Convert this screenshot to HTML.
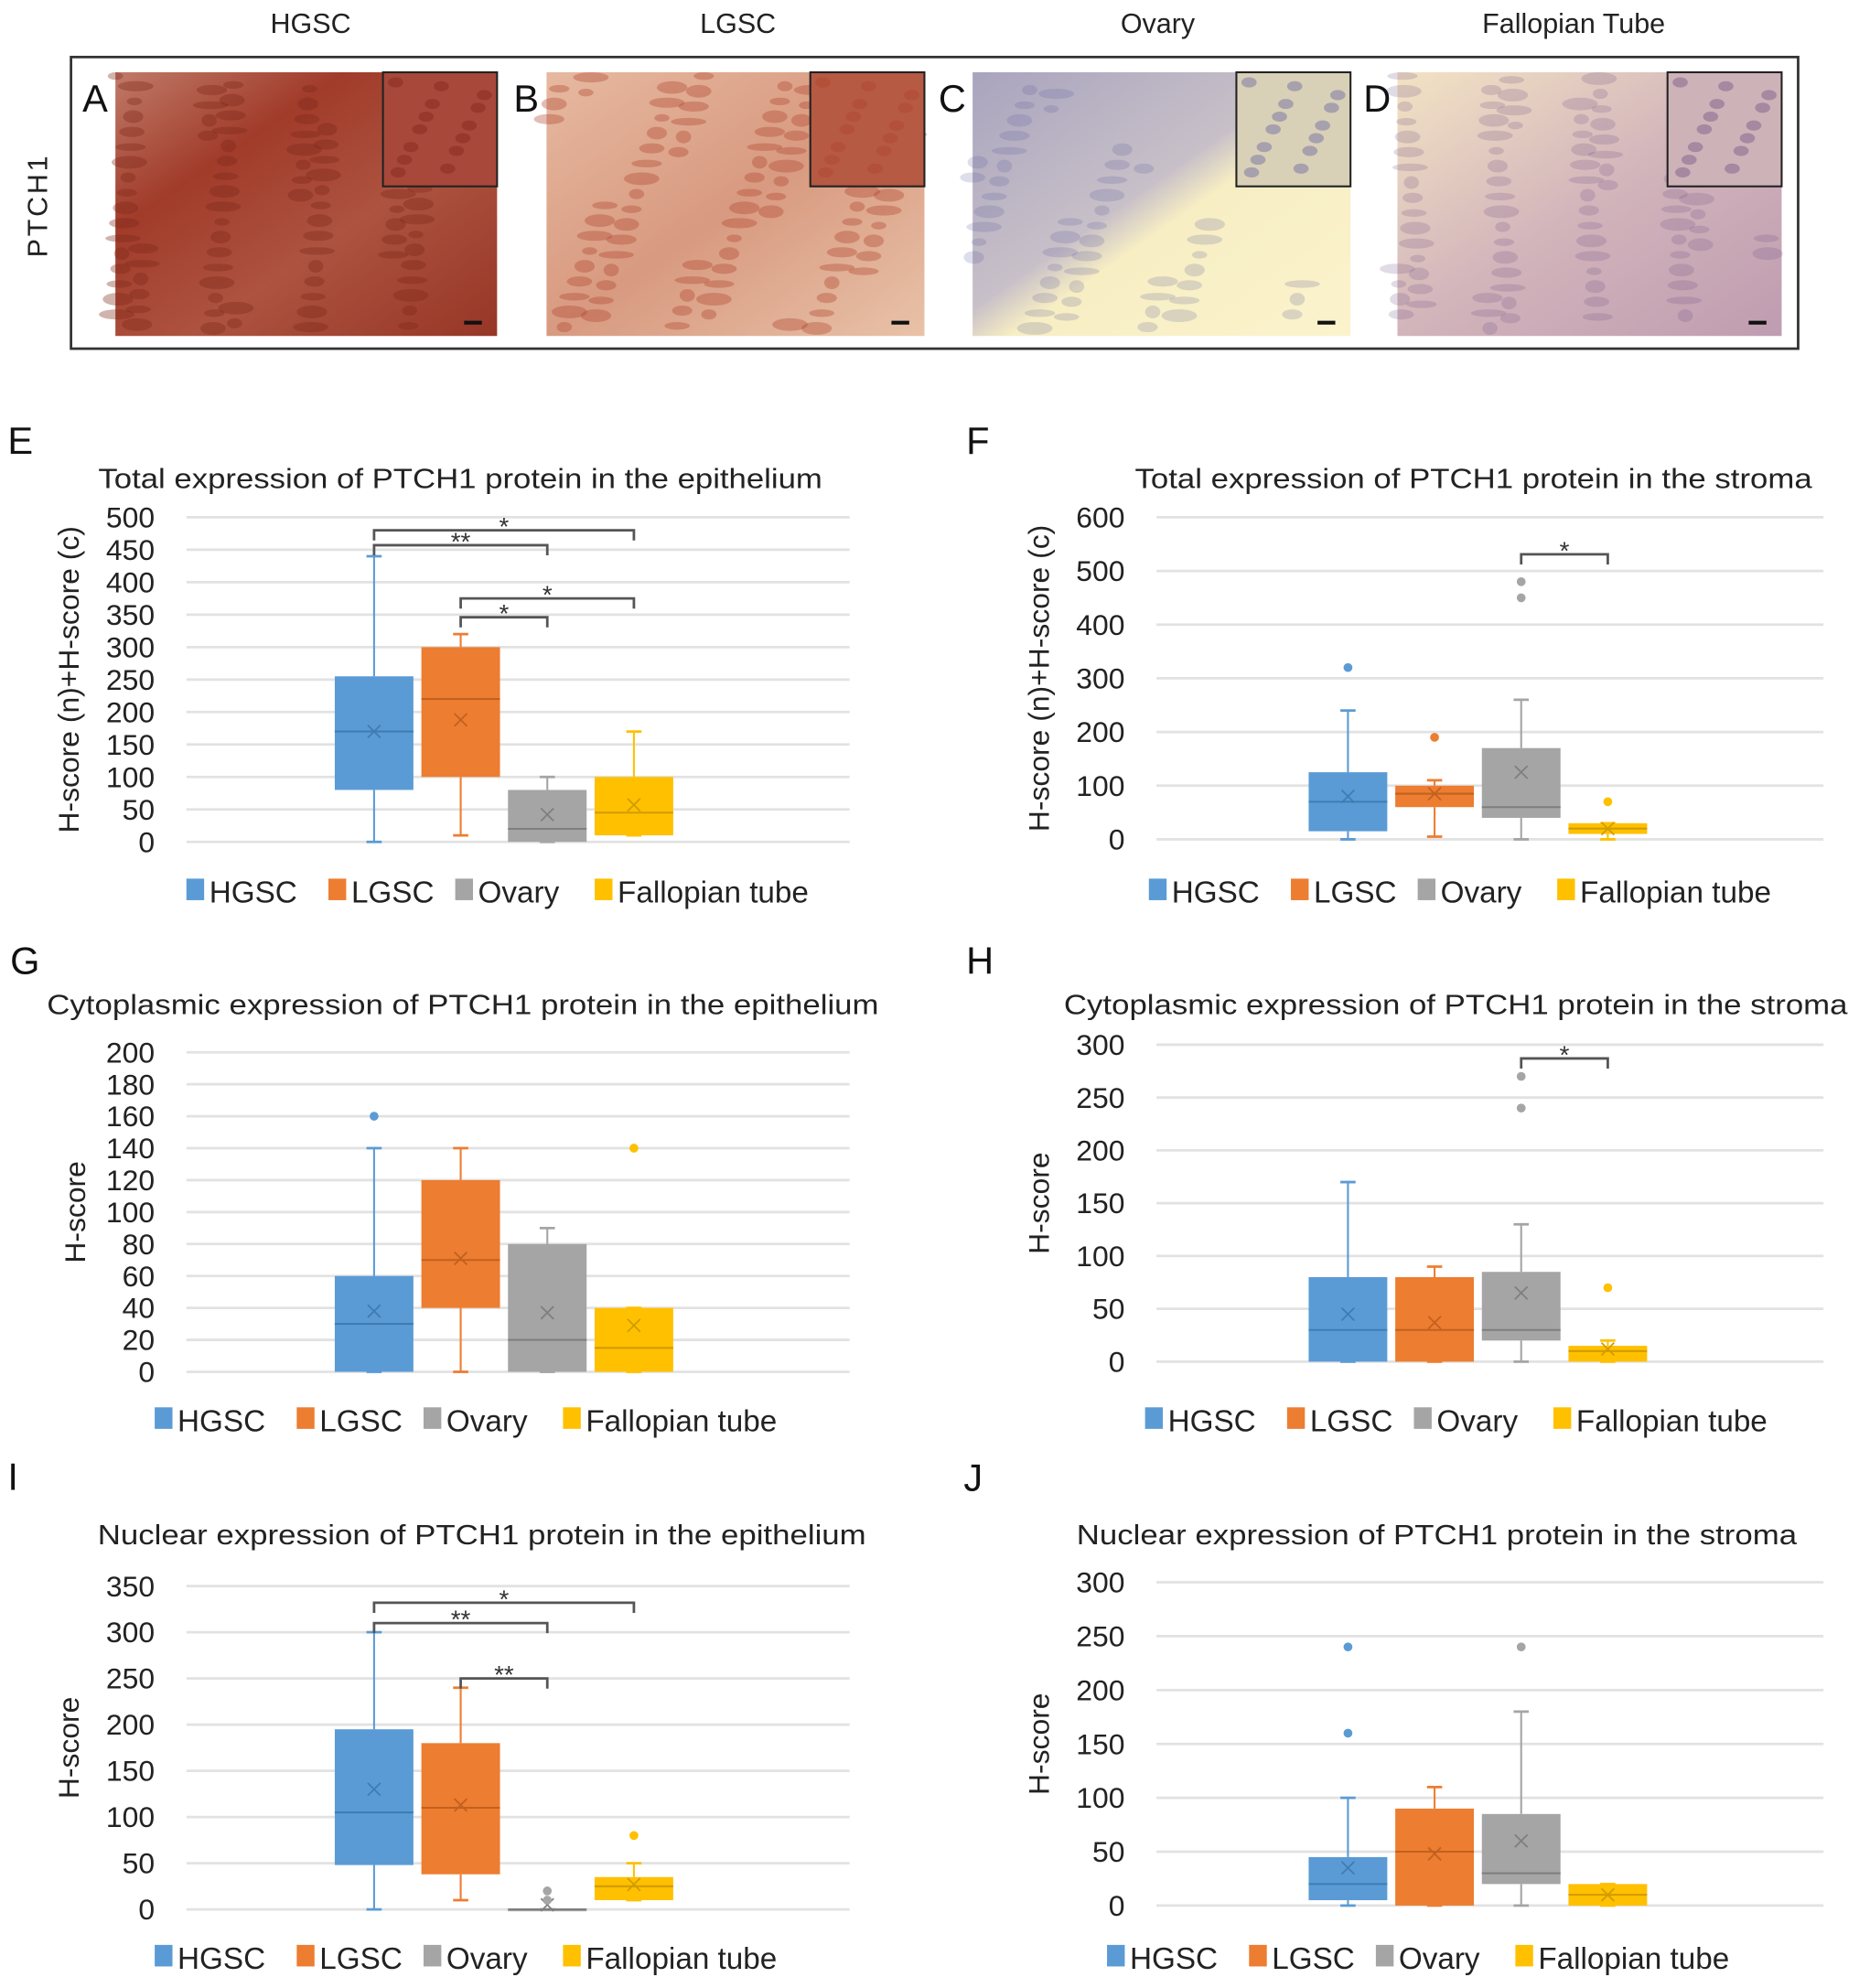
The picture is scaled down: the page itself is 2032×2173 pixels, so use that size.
<!DOCTYPE html>
<html><head><meta charset="utf-8">
<style>
html,body{margin:0;padding:0;background:#fff;}
svg{display:block;font-family:"Liberation Sans",Arial,sans-serif;}
</style></head>
<body>
<svg id="fig" width="2032" height="2173" viewBox="0 0 1466 1568" preserveAspectRatio="none" xmlns="http://www.w3.org/2000/svg">
<defs>
<linearGradient id="gA" x1="0" y1="0" x2="1" y2="1"><stop offset="0" stop-color="#c07a68"/><stop offset="0.3" stop-color="#a13b2a"/><stop offset="0.6" stop-color="#ad5340"/><stop offset="1" stop-color="#973626"/></linearGradient>
<linearGradient id="gB" x1="0" y1="0" x2="1" y2="1"><stop offset="0" stop-color="#e6b9a0"/><stop offset="0.5" stop-color="#d89a80"/><stop offset="1" stop-color="#e8c2a8"/></linearGradient>
<linearGradient id="gC" x1="0" y1="0" x2="1" y2="1"><stop offset="0" stop-color="#a9a4be"/><stop offset="0.45" stop-color="#c8c0c8"/><stop offset="0.55" stop-color="#f7eec4"/><stop offset="1" stop-color="#fbf3cc"/></linearGradient>
<linearGradient id="gD" x1="0" y1="0" x2="1" y2="1"><stop offset="0" stop-color="#f3e3c4"/><stop offset="0.5" stop-color="#d2b4bb"/><stop offset="1" stop-color="#bf9cb0"/></linearGradient>
</defs>
<g id="topg"></g>
<g id="charts"></g>
</svg>
<script>
const NS="http://www.w3.org/2000/svg";
const svgRoot=document.getElementById('fig');
const COLORS=["#5b9bd5","#ed7d31","#a5a5a5","#ffc000"];
const DARK=["#3f7cb4","#c2611f","#7f7f7f","#d19c00"];
const categories=["HGSC","LGSC","Ovary","Fallopian tube"];

// Panel E
const eTicks=[0,50,100,150,200,250,300,350,400,450,500];
const eMin=[0,10,0,10], eQ1=[80,100,0,10], eMed=[170,220,20,45], eQ3=[255,300,80,100], eMax=[440,320,100,170], eMean=[170,188,42,57];
const eOut=[[],[],[],[]];
const eSig=[[0,2,457,"**"],[0,3,480,"*"],[1,2,346,"*"],[1,3,375,"*"]];
// Panel F
const fTicks=[0,100,200,300,400,500,600];
const fMin=[0,5,0,0], fQ1=[15,60,40,10], fMed=[70,85,60,20], fQ3=[125,100,170,30], fMax=[240,110,260,30], fMean=[80,85,125,20];
const fOut=[[320],[190],[450,480],[70]];
const fSig=[[2,3,531,"*"]];
// Panel G
const gTicks=[0,20,40,60,80,100,120,140,160,180,200];
const gMin=[0,0,0,0], gQ1=[0,40,0,0], gMed=[30,70,20,15], gQ3=[60,120,80,40], gMax=[140,140,90,40], gMean=[38,71,37,29];
const gOut=[[160],[],[],[140]];
const gSig=[];
// Panel H
const hTicks=[0,50,100,150,200,250,300];
const hMin=[0,0,0,0], hQ1=[0,0,20,0], hMed=[30,30,30,10], hQ3=[80,80,85,15], hMax=[170,90,130,20], hMean=[45,37,65,12];
const hOut=[[],[],[240,270],[70]];
const hSig=[[2,3,287,"*"]];
// Panel I
const iTicks=[0,50,100,150,200,250,300,350];
const iMin=[0,10,0,10], iQ1=[48,38,0,10], iMed=[105,110,0,25], iQ3=[195,180,0,35], iMax=[300,240,0,50], iMean=[130,113,5,27];
const iOut=[[],[],[10,20],[80]];
const iSig=[[0,3,332,"*"],[0,2,310,"**"],[1,2,250,"**"]];
// Panel J
const jTicks=[0,50,100,150,200,250,300];
const jMin=[0,0,0,0], jQ1=[5,0,20,0], jMed=[20,50,30,10], jQ3=[45,90,85,20], jMax=[100,110,180,20], jMean=[35,48,60,10];
const jOut=[[160,240],[],[240],[]];
const jSig=[];

function el(tag,attrs,parent,text){const e=document.createElementNS(NS,tag);for(const k in attrs)e.setAttribute(k,attrs[k]);if(text!==undefined)e.textContent=text;(parent||svgRoot).appendChild(e);return e;}

// ---------- top histology panel ----------
const topG=document.getElementById('topg');
const heads=[["HGSC",245],["LGSC",582],["Ovary",913],["Fallopian Tube",1241]];
heads.forEach(h=>{const t=el('text',{x:h[1],y:26,'font-size':22,'text-anchor':'middle',fill:'#222'},topG,h[0]);

});
const fr=el('rect',{x:56,y:45,width:1362,height:230,fill:'#fff',stroke:'#333','stroke-width':2},topG);


const pt=el('text',{x:37,y:162,'font-size':22,'text-anchor':'middle',transform:'rotate(-90 37 162)',fill:'#222','letter-spacing':'2'},topG,"PTCH1");


const imgs=[[91,392,'gA','#7a2418','A','#a8483a'],[431,729,'gB','#b0402a','B','#b65a44'],[767,1065,'gC','#5a5a9a','C','#d9d0b8'],[1102,1405,'gD','#6a4a80','D','#cdb3b8']];
imgs.forEach((m,k)=>{
  const g=el('g',{},topG);
  
  
  el('rect',{x:m[0],y:57,width:m[1]-m[0],height:208,fill:'url(#'+m[2]+')'},g);
  for(let i=0;i<90;i++){const px=m[0]+((i*73+k*31)%(m[1]-m[0]-10));const py=60+((i*47+k*13)%200);
    if(k===2&&px-m[0]>(py-57)*1.2+60)continue;
    el('ellipse',{cx:px,cy:py,rx:6+(i%5)*2,ry:3+(i%3),fill:m[3],opacity:k<2?0.35:0.2},g);}
  el('rect',{x:m[1]-90,y:57,width:90,height:90,fill:m[5],stroke:'#222','stroke-width':1.5},g);
  for(let i=0;i<14;i++){el('ellipse',{cx:m[1]-80+((i*29)%75),cy:65+((i*17)%75),rx:6,ry:4,fill:m[3],opacity:0.4},g);}
  el('rect',{x:m[1]-26,y:253,width:14,height:3,fill:'#111'},g);
  const L=el('text',{x:m[0]-16,y:88,'font-size':30,'text-anchor':'middle',fill:'#111'},topG,m[4]);
  
  
});

// ---------- charts ----------
const chartsG=document.getElementById('charts');
function drawChart(o){
  const g=el('g',{},chartsG);
  
  
  const maxT=o.ticks[o.ticks.length-1];
  const Y=v=>o.y0-(v/maxT)*(o.y0-o.yTop);
  const X=i=>o.cx0+i*68.3;
  const L=el('text',{x:o.lx,y:o.ly,'font-size':30,fill:'#111'},g,o.letter);
  
  
  const T=el('text',{x:o.tx,y:o.ty,'font-size':22,'text-anchor':'middle',fill:'#222',textLength:o.tw,lengthAdjust:'spacingAndGlyphs'},g,o.title);
  
  
  o.ticks.forEach(t=>{
    const gl=el('line',{x1:o.px0,x2:o.px1,y1:Y(t),y2:Y(t),stroke:'#e2e2e2','stroke-width':2},g);
    
    
    const tl=el('text',{x:o.px0-25,y:Y(t)+8,'font-size':23,'text-anchor':'end',fill:'#222'},g,String(t));
    
    
  });
  const yc=(o.y0+o.yTop)/2;
  const yl=el('text',{x:o.ylx,y:yc,'font-size':23,'text-anchor':'middle',fill:'#222',transform:`rotate(-90 ${o.ylx} ${yc})`},g,o.ylabel);
  
  
  for(let i=0;i<4;i++){
    const bg=el('g',{},g);
    
    
    const cx=X(i),w=31,c=COLORS[i],d=DARK[i];
    el('line',{x1:cx,x2:cx,y1:Y(o.max[i]),y2:Y(o.q3[i]),stroke:c,'stroke-width':1.5},bg);
    el('line',{x1:cx,x2:cx,y1:Y(o.q1[i]),y2:Y(o.min[i]),stroke:c,'stroke-width':1.5},bg);
    el('line',{x1:cx-6,x2:cx+6,y1:Y(o.max[i]),y2:Y(o.max[i]),stroke:c,'stroke-width':2},bg);
    el('line',{x1:cx-6,x2:cx+6,y1:Y(o.min[i]),y2:Y(o.min[i]),stroke:c,'stroke-width':2},bg);
    const h=Math.max(Y(o.q1[i])-Y(o.q3[i]),1.5);
    el('rect',{x:cx-w,y:Y(o.q3[i]),width:2*w,height:h,fill:c},bg);
    el('line',{x1:cx-w,x2:cx+w,y1:Y(o.med[i]),y2:Y(o.med[i]),stroke:d,'stroke-width':1.5},bg);
    const my=Y(o.mean[i]);
    el('path',{d:`M${cx-5} ${my-5}L${cx+5} ${my+5}M${cx+5} ${my-5}L${cx-5} ${my+5}`,stroke:d,'stroke-width':1.3,fill:'none'},bg);
    o.out[i].forEach(v=>{const p=el('circle',{cx:cx,cy:Y(v),r:3.5,fill:c},bg);
      
      });
  }
  o.sig.forEach(s=>{
    const sg=el('g',{},g);
    
    
    const a=X(s[0]),b=X(s[1]),y=Y(s[2]);
    el('path',{d:`M${a} ${y+8}L${a} ${y}L${b} ${y}L${b} ${y+8}`,stroke:'#555','stroke-width':2,fill:'none'},sg);
    el('text',{x:(a+b)/2,y:y+4,'font-size':20,'text-anchor':'middle',fill:'#333'},sg,s[3]);
  });
  const lg=el('g',{},g);
  
  
  const offs=[0,112,212,322];
  categories.forEach((cat,i)=>{
    const e=el('g',{},lg);
    
    
    const lx=o.legx+offs[i];
    el('rect',{x:lx,y:o.legy-10,width:14,height:17,fill:COLORS[i]},e);
    el('text',{x:lx+18,y:o.legy+9,'font-size':24,fill:'#222'},e,cat);
  });
}

drawChart({letter:'E',lx:6,ly:358,title:'Total expression of PTCH1 protein in the epithelium',tx:363,ty:385,tw:571,
  px0:147,px1:670,y0:664,yTop:408,cx0:295,ticks:eTicks,ylabel:'H-score (n)+H-score (c)',ylx:62,
  min:eMin,q1:eQ1,med:eMed,q3:eQ3,max:eMax,mean:eMean,out:eOut,sig:eSig,legx:147,legy:703});
drawChart({letter:'F',lx:762,ly:358,title:'Total expression of PTCH1 protein in the stroma',tx:1162,ty:385,tw:534,
  px0:912,px1:1438,y0:662,yTop:408,cx0:1063,ticks:fTicks,ylabel:'H-score (n)+H-score (c)',ylx:827,
  min:fMin,q1:fQ1,med:fMed,q3:fQ3,max:fMax,mean:fMean,out:fOut,sig:fSig,legx:906,legy:703});
drawChart({letter:'G',lx:8,ly:768,title:'Cytoplasmic expression of PTCH1 protein in the epithelium',tx:365,ty:800,tw:656,
  px0:147,px1:670,y0:1082,yTop:830,cx0:295,ticks:gTicks,ylabel:'H-score',ylx:67,
  min:gMin,q1:gQ1,med:gMed,q3:gQ3,max:gMax,mean:gMean,out:gOut,sig:gSig,legx:122,legy:1120});
drawChart({letter:'H',lx:762,ly:768,title:'Cytoplasmic expression of PTCH1 protein in the stroma',tx:1148,ty:800,tw:618,
  px0:912,px1:1438,y0:1074,yTop:824,cx0:1063,ticks:hTicks,ylabel:'H-score',ylx:827,
  min:hMin,q1:hQ1,med:hMed,q3:hQ3,max:hMax,mean:hMean,out:hOut,sig:hSig,legx:903,legy:1120});
drawChart({letter:'I',lx:6,ly:1175,title:'Nuclear expression of PTCH1 protein in the epithelium',tx:380,ty:1218,tw:606,
  px0:147,px1:670,y0:1506,yTop:1251,cx0:295,ticks:iTicks,ylabel:'H-score',ylx:62,
  min:iMin,q1:iQ1,med:iMed,q3:iQ3,max:iMax,mean:iMean,out:iOut,sig:iSig,legx:122,legy:1544});
drawChart({letter:'J',lx:760,ly:1176,title:'Nuclear expression of PTCH1 protein in the stroma',tx:1133,ty:1218,tw:568,
  px0:912,px1:1438,y0:1503,yTop:1248,cx0:1063,ticks:jTicks,ylabel:'H-score',ylx:827,
  min:jMin,q1:jQ1,med:jMed,q3:jQ3,max:jMax,mean:jMean,out:jOut,sig:jSig,legx:873,legy:1544});
</script>
</body></html>
